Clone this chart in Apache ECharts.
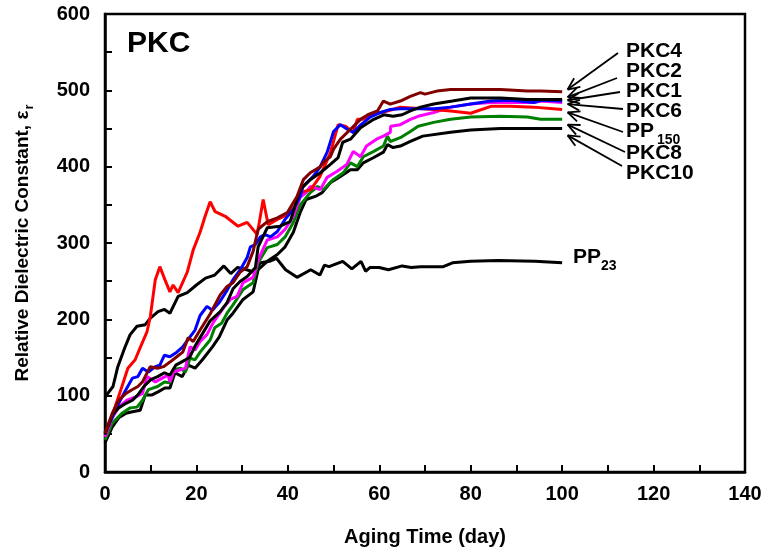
<!DOCTYPE html>
<html>
<head>
<meta charset="utf-8">
<script src="https://cdn.jsdelivr.net/npm/echarts@6/dist/echarts.min.js"></script>
<style>html,body{margin:0;padding:0;background:#fff}#c{width:761px;height:550px}</style>
</head>
<body>
<div id="c"></div>
<script>
// ---- data: [aging day, relative dielectric constant] ----
const pp23 = [[0,98],[1.75,112],[2.8,138],[4.4,164],[5.5,180],[7,191],[8.8,193],[10,202],[11.6,210],[13,213],[14.2,208],[16,230],[18,235],[20,245],[22,254],[24,258],[26,270],[27.5,260],[29,268],[31,265],[32.5,262],[34,274],[36,276],[37.5,280],[39.5,265],[42,255],[45,265],[47,258],[48,271],[49,269],[52,276],[54,266],[56,276],[57,263],[58,268],[60,268],[62,265],[65,270],[67,268],[69,269],[72,269],[74,269],[76,274],[80,276],[86,277],[94,276],[100,274]];
const pp150 = [[0,51],[1.75,77],[3.7,112],[5,136],[6.6,147],[7.7,163],[9.2,184],[9.9,203],[11,252],[12,269],[13.1,252],[14.2,236],[14.9,245],[16,235],[18,262],[19.3,291],[20.8,314],[21.9,335],[23,354],[24.1,341],[26.3,335],[29.1,322],[31.1,327],[33.3,311],[34.6,357],[35.7,324],[37.7,331],[39.9,337],[41.6,348],[42.7,366],[45,370],[47,387],[49.3,418],[51,455],[52.6,453],[54.3,445],[55.2,462],[56.3,462],[58,468],[60.3,471],[61.8,473],[64.6,478],[71.9,475],[75.6,473],[80,470],[84.4,479],[88.7,479],[93.8,478],[100,475]];
const pkc1 = [[0,52],[1.6,72],[3,90],[4.6,108],[6,123],[7.2,125],[8.2,136],[9.5,131],[11,138],[12,140],[13,153],[14.2,151],[15.7,157],[17,164],[18.6,177],[19.7,186],[20.8,205],[22.3,217],[23.5,212],[25,222],[26.7,238],[28,252],[29.6,265],[31.1,281],[31.8,295],[32.9,298],[34,308],[35,311],[36.2,308],[37.7,315],[39.4,331],[41.2,344],[42.7,361],[43.3,374],[45.5,387],[47,399],[48.6,419],[50,446],[51.5,455],[53,449],[54.3,445],[56,455],[58,465],[60.3,471],[62.4,475],[64.6,476],[72,476],[75.6,478],[80,482],[84.4,486],[88.7,487],[93.8,484],[95.5,487],[100,486]];
const pkc2 = [[0,49],[1.6,75],[3,84],[4.6,90],[6,94],[7.2,101],[8.5,112],[10,121],[11.5,125],[13,130],[14.2,127],[15.5,140],[17,145],[18.5,150],[19.7,165],[21,178],[23,198],[25.2,210],[26.7,222],[28,240],[29.6,250],[31.1,256],[32.9,268],[33.5,295],[35.5,320],[38.3,322],[40.5,328],[42.7,370],[44.9,383],[47.1,392],[49.3,403],[51,412],[52,432],[53.7,436],[55.9,451],[58.8,462],[61,468],[63,466],[65,468],[66.8,473],[69,478],[71.9,482],[76,486],[80,490],[86.5,490],[92.4,488],[95.3,488],[100,488]];
const pkc4 = [[0,51],[1.6,77],[3,94],[4.6,103],[6,108],[7.2,112],[8.2,118],[9.9,138],[11.5,136],[12.8,138],[14.2,144],[15.7,151],[17,157],[18.2,176],[19.3,171],[20.8,186],[23,207],[25.2,232],[26.7,243],[28,248],[29.6,262],[31.1,269],[32.4,289],[33.5,318],[35.5,328],[37.7,333],[39.9,340],[42,361],[43.4,383],[44.9,392],[47.1,400],[48,407],[49.3,413],[50,423],[51.5,436],[53.7,449],[55.9,462],[57.5,468],[59.6,473],[60.9,486],[62.4,482],[64.6,486],[66.8,492],[69,497],[70,495],[72.6,499],[75.6,501],[79,501],[86.5,501],[92.4,499],[95.3,499],[100,498]];
const pkc6 = [[0,46],[1.6,71],[3,85],[4.8,94],[6.6,98],[8.2,103],[9.2,125],[11,118],[12.5,123],[13.8,127],[14.2,118],[15,131],[16.5,134],[17.6,136],[18.6,164],[19.7,160],[20.8,171],[22.3,180],[23.7,196],[25.9,215],[27.4,226],[28.9,230],[30.2,248],[32.4,255],[33.5,278],[35.5,304],[37.7,308],[39.4,318],[41.2,335],[42.7,360],[44,366],[44.9,374],[47.1,370],[48.6,386],[50.8,394],[52.9,403],[54.3,420],[55.9,413],[57.2,427],[59.4,436],[60.9,440],[62.4,445],[62.5,453],[64.6,455],[66.8,462],[68.5,466],[71.9,471],[75.6,478],[80,482],[84.4,484],[88.7,484],[93.8,484],[95.3,486],[100,484]];
const pkc8 = [[0,42],[1.6,64],[3.7,77],[5.5,84],[7,85],[8.2,94],[9.5,108],[11.5,112],[13,118],[14.2,117],[15,134],[16.5,136],[17.6,131],[18.6,149],[19.7,147],[20.8,157],[23,173],[24,189],[25.5,195],[26.7,208],[28,219],[30.2,239],[32.4,248],[33.5,274],[35.5,294],[37.7,298],[39.4,308],[41.2,327],[42.7,350],[44.9,366],[46.5,374],[47.8,370],[49.9,383],[52.1,392],[53.7,405],[55.2,400],[56.5,413],[58.8,420],[60.9,427],[61.8,440],[62.4,433],[64.6,438],[66.8,446],[68.5,453],[71.9,458],[75.6,462],[80,465],[86.5,466],[92.4,465],[95.3,462],[100,462]];
const pkc10 = [[0,38],[1.6,59],[3,71],[4.6,77],[6,79],[7.7,81],[8.8,101],[10.3,101],[11.6,105],[13.1,110],[14.2,110],[15.3,130],[16.9,125],[18.2,140],[19.7,136],[21.3,147],[23.5,164],[25,177],[26.7,199],[28,208],[30.2,226],[32.4,236],[33.5,265],[35.5,276],[37.7,285],[39.4,295],[41.2,314],[42.7,340],[44,357],[46,361],[47.5,366],[49.3,379],[51.5,387],[53.7,396],[55.2,396],[56.5,405],[58.8,412],[60.9,419],[61.8,429],[63,425],[64.6,427],[66.8,433],[69.5,440],[75.6,445],[80,448],[86.5,450],[92.4,450],[100,450]];

const xTicks = [0,20,40,60,80,100,120,140];
const yTicks = [0,100,200,300,400,500,600];

// right-hand labels (top to bottom) and the values their arrows point at (day 101.2)
const arrowLabels = ['PKC4','PKC2','PKC1','PKC6','PP','PKC8','PKC10'];
const arrowTipValues = [501,491,487,482,471,455,441];
const arrowTipDay = 101.2;

const FONT = 'Liberation Sans, Arial, sans-serif';
const chart = echarts.init(document.getElementById('c'));

function line(name, data, color, z) {
  return {name, type:'line', data, showSymbol:false, symbol:'none', smooth:false, z:z||2,
    lineStyle:{color, width:3}, itemStyle:{color}, animation:false};
}

chart.setOption({
  animation:false,
  backgroundColor:'#fff',
  grid:{left:105, right:16, top:14, bottom:78, outerBoundsMode:'none', containLabel:false, show:true, borderColor:'#000', borderWidth:2.5, backgroundColor:'transparent'},
  xAxis:{type:'value', min:xTicks[0], max:xTicks[xTicks.length-1], interval:20,
    name:'Aging Time (day)', nameLocation:'middle', nameGap:55,
    nameTextStyle:{fontFamily:FONT, fontWeight:'bold', fontSize:20, color:'#000'},
    axisLine:{lineStyle:{color:'#000', width:2.5}},
    axisTick:{inside:true, length:7, lineStyle:{color:'#000', width:2}},
    minorTick:{show:true, splitNumber:2, length:7, lineStyle:{color:'#000', width:2}},
    splitLine:{show:false},
    axisLabel:{fontFamily:FONT, fontWeight:'bold', fontSize:20, color:'#000', margin:12}},
  yAxis:{type:'value', min:yTicks[0], max:yTicks[yTicks.length-1], interval:100,
    name:'{a|Relative Dielectric Constant, ε}{s|r}', nameLocation:'middle', nameGap:72,
    nameTextStyle:{color:'#000', rich:{
      a:{fontFamily:FONT, fontWeight:'bold', fontSize:19, lineHeight:20, verticalAlign:'top', color:'#000'},
      s:{fontFamily:FONT, fontWeight:'bold', fontSize:13, lineHeight:14, verticalAlign:'top', padding:[10,0,0,1], color:'#000'}}},
    axisLine:{lineStyle:{color:'#000', width:2.5}},
    axisTick:{inside:true, length:7, lineStyle:{color:'#000', width:2}},
    minorTick:{show:true, splitNumber:2, length:7, lineStyle:{color:'#000', width:2}},
    splitLine:{show:false},
    axisLabel:{fontFamily:FONT, fontWeight:'bold', fontSize:20, color:'#000', margin:15}},
  series:[
    line('PP23', pp23, '#000000'),
    line('PKC10', pkc10, '#000000'),
    line('PKC8', pkc8, '#008000'),
    line('PKC6', pkc6, '#ff00ff'),
    line('PP150', pp150, '#ff0000'),
    line('PKC1', pkc1, '#0000ff'),
    line('PKC2', pkc2, '#000000'),
    line('PKC4', pkc4, '#800000')
  ]
});

// annotations
const labelY = [51,71,91,111,131,153,173];
const tails = [[618,53],[617,78],[620,92],[623,109],[623,132],[625,152],[622,166]];
const g = [];
g.push({type:'text', x:127, y:44, style:{text:'PKC', fontFamily:FONT, fontWeight:'bold', fontSize:30, fill:'#000', verticalAlign:'middle', align:'left'}});
arrowLabels.forEach((t,i)=>{
  g.push({type:'text', x:626, y:labelY[i], style:{text:t, fontFamily:FONT, fontWeight:'bold', fontSize:21, fill:'#000', verticalAlign:'middle', align:'left'}});
  const tip = chart.convertToPixel({gridIndex:0}, [arrowTipDay, arrowTipValues[i]]);
  const [tx,ty] = tails[i];
  g.push({type:'line', shape:{x1:tx,y1:ty,x2:tip[0],y2:tip[1]}, style:{stroke:'#000', lineWidth:1.8}});
  const ang = Math.atan2(ty-tip[1], tx-tip[0]);
  const L = 13, a = 0.42;
  [ang-a, ang+a].forEach(b=>{
    g.push({type:'line', shape:{x1:tip[0],y1:tip[1],x2:tip[0]+L*Math.cos(b),y2:tip[1]+L*Math.sin(b)}, style:{stroke:'#000', lineWidth:1.8}});
  });
});
g.push({type:'text', x:657, y:140, style:{text:'150', fontFamily:FONT, fontWeight:'bold', fontSize:14, fill:'#000', verticalAlign:'middle', align:'left'}});
g.push({type:'text', x:573, y:257, style:{text:'PP', fontFamily:FONT, fontWeight:'bold', fontSize:21, fill:'#000', verticalAlign:'middle', align:'left'}});
g.push({type:'text', x:601, y:266, style:{text:'23', fontFamily:FONT, fontWeight:'bold', fontSize:14, fill:'#000', verticalAlign:'middle', align:'left'}});
chart.setOption({graphic:g});
</script>
</body>
</html>
